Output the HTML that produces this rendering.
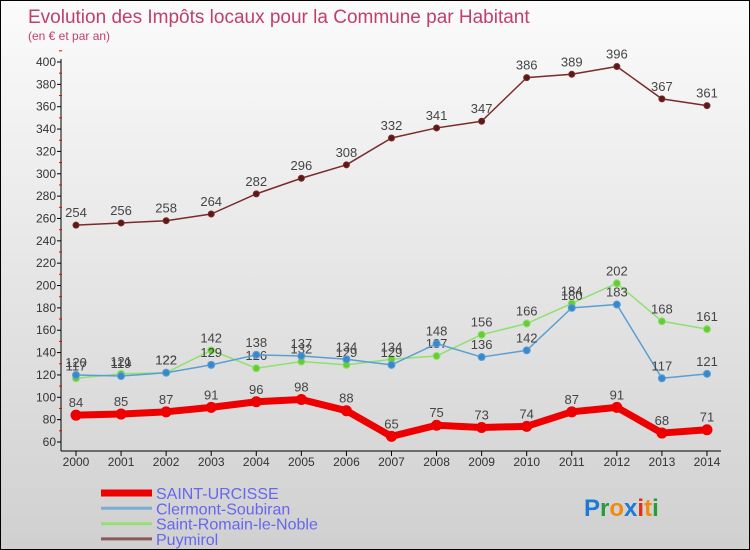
<!DOCTYPE html>
<html><head><meta charset="utf-8"><style>
body{margin:0}
#c{width:750px;height:550px;position:relative;background:linear-gradient(#fbfbfb,#d0d0d0);font-family:"Liberation Sans",sans-serif;overflow:hidden;box-sizing:border-box;border:1px solid #000}
</style></head><body>
<div id="c">
<svg id="s" width="750" height="550" style="position:absolute;left:0;top:0"></svg>
</div>
<script>
const years=[2000,2001,2002,2003,2004,2005,2006,2007,2008,2009,2010,2011,2012,2013,2014];
const urcisse=[84,85,87,91,96,98,88,65,75,73,74,87,91,68,71];
const clermont=[120,119,122,129,138,137,134,129,148,136,142,180,183,117,121];
const romain=[117,121,122,142,126,132,129,134,137,156,166,184,202,168,161];
const puymirol=[254,256,258,264,282,296,308,332,341,347,386,389,396,367,361];
const yTicks=[60,80,100,120,140,160,180,200,220,240,260,280,300,320,340,360,380,400];
const NS="http://www.w3.org/2000/svg",s=document.getElementById('s');
const X=i=>75+i*45.07, Y=v=>441-(v-60)*380/340;
function el(t,a,p){const e=document.createElementNS(NS,t);for(const k in a)e.setAttribute(k,a[k]);(p||s).appendChild(e);return e;}
let t=el('text',{x:27,y:22,fill:'#c0406a','font-size':19});t.textContent='Evolution des Impôts locaux pour la Commune par Habitant';


t=el('text',{x:27,y:39,fill:'#c0406a','font-size':12});t.textContent='(en € et par an)';


let ax=el('line',{x1:60,y1:58,x2:60,y2:450,stroke:'#000'});


ax=el('line',{x1:60,y1:450,x2:720,y2:450,stroke:'#000'});


yTicks.forEach(v=>{el('line',{x1:56,y1:Y(v),x2:60,y2:Y(v),stroke:'#000'});
el('line',{x1:58,y1:Y(v+10),x2:61,y2:Y(v+10),stroke:'#e00'});
const l=el('text',{x:55,y:Y(v)+4,'text-anchor':'end','font-size':12,fill:'#333'});l.textContent=v;

});
years.forEach((y,i)=>{el('line',{x1:X(i),y1:450,x2:X(i),y2:455,stroke:'#000'});
const l=el('text',{x:X(i),y:465,'text-anchor':'middle','font-size':12,fill:'#333'});l.textContent=y;

});
function series(d,col,dot,w,r,name){
const g=el('g',{});


el('polyline',{points:d.map((v,i)=>X(i)+','+Y(v)).join(' '),fill:'none',stroke:col,'stroke-width':w,'stroke-linejoin':'round'},g);
d.forEach((v,i)=>{const c=el('circle',{cx:X(i),cy:Y(v),r:r,fill:dot,stroke:col,'stroke-width':1},g);


const l=el('text',{x:X(i),y:Y(v)-8,'text-anchor':'middle','font-size':13,fill:'#444'},g);l.textContent=v;

});}
series(puymirol,'#7a2a2a','#5a1a1a',1.5,3,'puymirol');
series(romain,'#8fe070','#66cc33',1.5,3.5,'saint-romain');
series(clermont,'#5a9fd4','#3a88cc',1.5,3.5,'clermont');
series(urcisse,'#e00','#e00',7,5,'saint-urcisse');
const leg=[['SAINT-URCISSE','#e00',7],['Clermont-Soubiran','#7aaed4',3],['Saint-Romain-le-Noble','#99dd77',3],['Puymirol','#8a5a5a',3]];
leg.forEach((e,i)=>{const y=492+i*15.3;
const g=el('g',{});


el('line',{x1:100,y1:y,x2:151,y2:y,stroke:e[1],'stroke-width':e[2]},g);
const l=el('text',{x:155,y:y+6,'font-size':16,fill:'#6666ee'},g);l.textContent=e[0];});
const logo=el('text',{x:583,y:515,'font-size':24,'font-weight':'bold'});


[['P','#1a7ad4'],['r','#2a9a3a'],['o','#f08a10'],['x','#1a7ad4'],['i','#e03010'],['t','#f08a10'],['i','#2a9a3a']].forEach(p=>{const ts=el('tspan',{fill:p[1]},logo);ts.textContent=p[0];});
</script>
</body></html>
